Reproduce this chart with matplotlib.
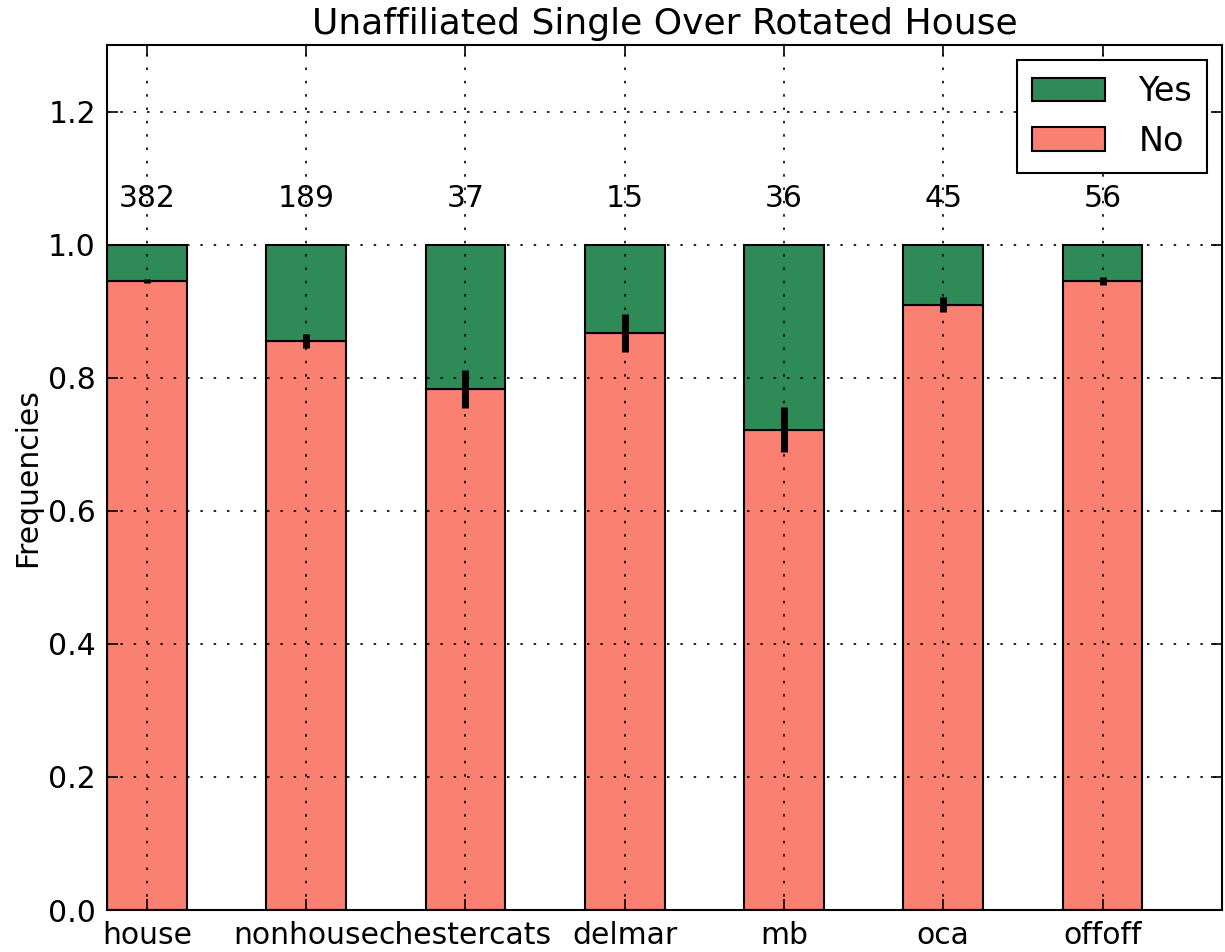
import numpy as np
import matplotlib
matplotlib.use("Agg")
import matplotlib.pyplot as plt

# groups and counts
groups = ["house", "nonhouse", "chestercats", "delmar", "mb", "oca", "offoff"]
counts = [382, 189, 37, 15, 36, 45, 56]

# share of "No", "Yes" is the rest up to 1
no_frac = [0.945, 0.855, 0.783, 0.867, 0.722, 0.910, 0.945]
yes_frac = [1 - v for v in no_frac]

# error bar half-lengths
err = [0.003, 0.010, 0.029, 0.029, 0.034, 0.011, 0.006]

plt.rcParams['font.family'] = 'DejaVu Sans'
plt.rcParams['font.size'] = 21.5

fig = plt.figure(figsize=(12.25, 9.52), dpi=100)
ax = fig.add_axes([0.0873, 0.0441, 0.9103, 0.9086])

x = np.arange(len(groups))
w = 0.5

ax.bar(x, no_frac, w, color="salmon", edgecolor="black", linewidth=1.5, label="No", zorder=2)
ax.bar(x, yes_frac, w, bottom=no_frac, color="seagreen", edgecolor="black", linewidth=1.5,
       label="Yes", zorder=2)
ax.errorbar(x, no_frac, yerr=err, fmt="none", ecolor="black", elinewidth=5, capsize=0, zorder=3)

# counts above the bars
for i in range(len(groups)):
    ax.text(x[i], 1.057, str(counts[i]), ha="center", va="baseline", fontsize=21.5)

ax.set_xlim(-0.25, 6.75)
ax.set_ylim(0, 1.3)
ax.set_xticks(x)
ax.set_xticklabels(groups)
ax.set_yticks(np.arange(0, 1.21, 0.2))
ax.set_ylabel("Frequencies", fontsize=21.5)
ax.set_title("Unaffiliated Single Over Rotated House", fontsize=26, pad=8)

ax.grid(True, linestyle=(0, (1.5, 6.5)), color="black", linewidth=1.2, zorder=1)
ax.set_axisbelow(False)
ax.tick_params(direction="in", top=True, right=True, length=8, width=1.2, pad=8)
for s in ax.spines.values():
    s.set_linewidth(1.5)

# legend: Yes first, then No
h, l = ax.get_legend_handles_labels()
leg = ax.legend([h[1], h[0]], [l[1], l[0]], loc="upper right", fontsize=24,
                fancybox=False, edgecolor="black", framealpha=1,
                borderaxespad=0.45, handlelength=2.2, handletextpad=1.0,
                borderpad=0.45, labelspacing=0.5)
leg.get_frame().set_linewidth(1.5)

fig.savefig("out.png", dpi=100)
